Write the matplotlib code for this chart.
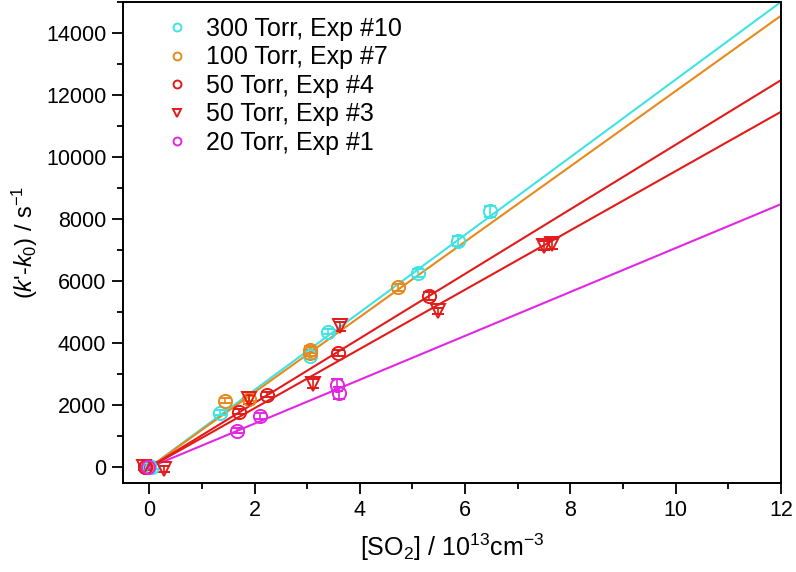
import matplotlib
matplotlib.use("Agg")
import matplotlib.pyplot as plt
import numpy as np
from matplotlib.ticker import MultipleLocator

plt.rcParams['font.family'] = ['Liberation Sans', 'DejaVu Sans']
plt.rcParams['mathtext.fontset'] = 'custom'
plt.rcParams['mathtext.rm'] = 'Liberation Sans'
plt.rcParams['mathtext.it'] = 'Liberation Sans:italic'

# 300 Torr, Exp #10
x_300 = [0.0, 0.06, 1.34, 3.05, 3.40, 5.11, 5.86, 6.47]
y_300 = [0, 20, 1770, 3600, 4370, 6270, 7300, 8260]
e_300 = [80, 80, 80, 100, 80, 120, 150, 180]
# 100 Torr, Exp #7
x_100 = [-0.05, 1.43, 1.89, 3.05, 3.05, 4.73]
y_100 = [0, 2150, 2220, 3800, 3680, 5800]
e_100 = [80, 80, 80, 100, 100, 120]
# 50 Torr, Exp #4
x_50a = [-0.08, 1.70, 2.23, 3.59, 5.32]
y_50a = [0, 1800, 2350, 3700, 5520]
e_50a = [80, 80, 80, 100, 120]
# 50 Torr, Exp #3
x_50b = [-0.1, 0.27, 1.89, 3.11, 3.63, 5.49, 7.50, 7.65]
y_50b = [0, -40, 2200, 2700, 4550, 5050, 7150, 7200]
e_50b = [80, 100, 150, 150, 150, 100, 150, 150]
# 20 Torr, Exp #1
x_20 = [-0.02, 1.67, 2.10, 3.57, 3.61]
y_20 = [0, 1180, 1650, 2650, 2400]
e_20 = [60, 80, 100, 200, 200]

# fitted slopes (s-1 per 1e13 cm-3)
slopes = [1250, 1213, 1040, 955, 707]

names = ["300 Torr, Exp #10", "100 Torr, Exp #7", "50 Torr, Exp #4",
         "50 Torr, Exp #3", "20 Torr, Exp #1"]
colors = ['#3FE3E3', '#E8891C', '#E31A1A', '#E31A1A', '#E326E3']
markers = ['o', 'o', 'o', 'v', 'o']
xs = [x_300, x_100, x_50a, x_50b, x_20]
ys = [y_300, y_100, y_50a, y_50b, y_20]
es = [e_300, e_100, e_50a, e_50b, e_20]

fig = plt.figure(figsize=(7.96, 5.72), dpi=100)
ax = fig.add_axes([0.1545, 0.1556, 0.8266, 0.841])

xfit = np.array([0, 12])
for i in range(5):
    ax.plot(xfit, slopes[i] * xfit, color=colors[i], lw=1.5, zorder=2)
for i in range(5):
    ax.errorbar(xs[i], ys[i], yerr=es[i], fmt=markers[i], mfc='none',
                mec=colors[i], ecolor=colors[i], mew=1.4, ms=9.5, capsize=4,
                elinewidth=1.2, label=names[i], zorder=3)

ax.set_xlim(-0.5, 12)
ax.set_ylim(-500, 15000)
ax.xaxis.set_major_locator(MultipleLocator(2))
ax.xaxis.set_minor_locator(MultipleLocator(1))
ax.yaxis.set_major_locator(MultipleLocator(2000))
ax.yaxis.set_minor_locator(MultipleLocator(1000))
ax.tick_params(which='major', length=8, width=1.3, labelsize=15.5, pad=4)
ax.tick_params(which='minor', length=4, width=1.3)
for s in ax.spines.values():
    s.set_linewidth(1.4)

ax.set_xlabel(r"[SO$_2$] / 10$^{13}$cm$^{-3}$", fontsize=18, labelpad=8)
ax.set_ylabel(r"($k$'-$k_0$) / s$^{-1}$", fontsize=17, labelpad=4)

handles, labels = ax.get_legend_handles_labels()
handles = [h[0] for h in handles]
ax.legend(handles, labels, loc='upper left', frameon=False, fontsize=18,
          handletextpad=0.7, labelspacing=0.18, borderaxespad=0.0,
          bbox_to_anchor=(0.05, 0.99), handlelength=0.9, markerscale=0.6)

fig.savefig("out.png", dpi=100)
